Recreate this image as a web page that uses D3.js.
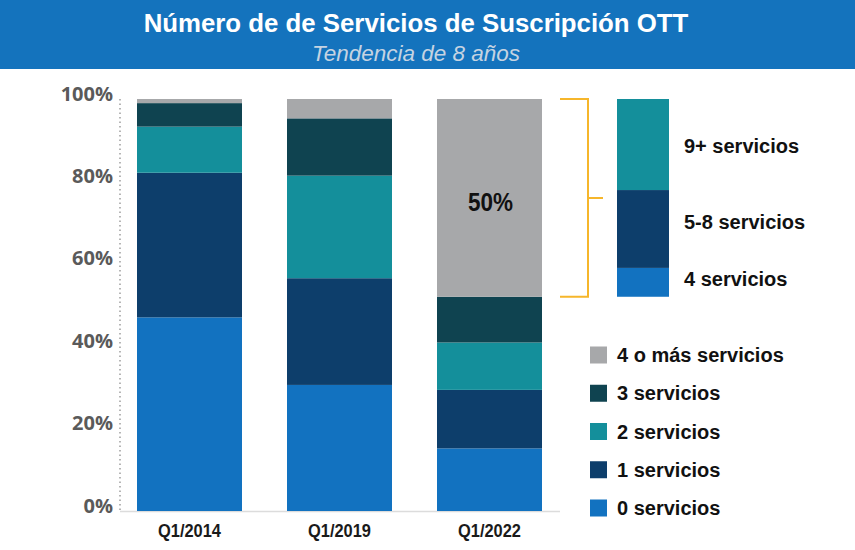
<!DOCTYPE html>
<html><head><meta charset="utf-8">
<script src="https://cdn.jsdelivr.net/npm/d3@7/dist/d3.min.js"></script>
<style>
html,body{margin:0;padding:0;background:#fff;}
svg{display:block;}
</style></head>
<body>
<svg id="c" width="855" height="550"></svg>
<script>
const categories = ["Q1/2014", "Q1/2019", "Q1/2022"];
const seriesNames = ["0 servicios", "1 servicios", "2 servicios", "3 servicios", "4 o más servicios"];
const s0 = [47.0, 30.6, 15.2];
const s1 = [35.1, 25.9, 14.2];
const s2 = [11.2, 24.9, 11.5];
const s3 = [5.7, 13.9, 11.1];
const s4 = [1.0, 4.7, 48.0];
const seriesColors = ["#1272c0", "#0d3e6b", "#148f9b", "#0f4350", "#a7a8aa"];
const yTicks = [0, 20, 40, 60, 80, 100];
const highlightLabel = "50%";
const breakdownNames = ["4 servicios", "5-8 servicios", "9+ servicios"];
const breakdownValues = [7.0, 18.9, 22.1];
const breakdownColors = ["#1272c0", "#0d3e6b", "#148f9b"];
const titleText = "Número de de Servicios de Suscripción OTT";
const subtitleText = "Tendencia de 8 años";

const svg = d3.select("#c");
const allSeries = [s0, s1, s2, s3, s4];
const table = categories.map((c, i) => {
  const o = {cat: c};
  seriesNames.forEach((n, j) => o[n] = allSeries[j][i]);
  return o;
});
const stack = d3.stack().keys(seriesNames)(table);

const x = d3.scaleBand().domain(categories).range([122, 557]).paddingInner(0.3).paddingOuter(0.1);
const y = d3.scaleLinear().domain([0, 100]).range([511, 99]);

// header
svg.append("rect").attr("x", 0).attr("y", 0).attr("width", 855).attr("height", 69).attr("fill", "#1473bd");
svg.append("text").attr("x", 416).attr("y", 32).attr("text-anchor", "middle")
  .attr("font-family", "Liberation Sans, Arial, sans-serif").attr("font-weight", "bold")
  .attr("font-size", 25.8).attr("fill", "#fff").text(titleText);
svg.append("text").attr("x", 416).attr("y", 61).attr("text-anchor", "middle")
  .attr("font-family", "Liberation Sans, Arial, sans-serif").attr("font-style", "italic")
  .attr("font-size", 22.5).attr("fill", "#c5d3e2").text(subtitleText);

// axes
svg.append("line").attr("x1", 120).attr("x2", 120).attr("y1", y(100)).attr("y2", y(0))
  .attr("stroke", "#b5b5b5").attr("stroke-width", 2).attr("stroke-dasharray", "1.5,3");
svg.append("line").attr("x1", 120).attr("x2", 560).attr("y1", y(0) + 0.5).attr("y2", y(0) + 0.5)
  .attr("stroke", "#dcdcdc").attr("stroke-width", 1.5);

const yAxis = d3.axisLeft(y).tickValues(yTicks).tickFormat(d => d + "%").tickSize(0).tickPadding(7);
const ya = svg.append("g").attr("transform", "translate(120,0)").call(yAxis);
ya.select(".domain").remove();
ya.selectAll("text").attr("font-family", "Open Sans, sans-serif").attr("font-weight", 700)
  .attr("font-size", 20).attr("fill", "#5a5a5a").attr("dy", "0.05em");

const xAxis = d3.axisBottom(x).tickSize(0).tickPadding(13);
const xa = svg.append("g").attr("transform", `translate(0,${y(0)})`).call(xAxis);
xa.select(".domain").remove();
xa.selectAll("text").attr("font-family", "Liberation Sans, Arial, sans-serif")
  .attr("font-weight", "bold").attr("font-size", 19).attr("fill", "#1a1a1a")
  .attr("textLength", 63).attr("lengthAdjust", "spacingAndGlyphs");

// bars
svg.append("g").selectAll("g").data(stack).join("g")
  .attr("fill", (d, i) => seriesColors[i])
  .selectAll("rect").data(d => d).join("rect")
  .attr("x", d => x(d.data.cat)).attr("width", x.bandwidth())
  .attr("y", d => y(Math.min(100, d[1]))).attr("height", d => y(d[0]) - y(Math.min(100, d[1])));

// highlight label on last bar's top segment
svg.append("text").attr("x", x(categories[2]) + x.bandwidth() / 2 + 1).attr("y", y(75) + 9)
  .attr("text-anchor", "middle").attr("font-family", "Liberation Sans, Arial, sans-serif")
  .attr("font-weight", "bold").attr("font-size", 25).attr("fill", "#111")
  .attr("textLength", 45).attr("lengthAdjust", "spacingAndGlyphs").text(highlightLabel);

// bracket
const base = 100 - d3.sum(breakdownValues);
const bTop = y(100), bBot = y(base), bMid = (bTop + bBot) / 2;
svg.append("path")
  .attr("d", `M560,${bTop}H588V${bBot}H560M588,${bMid}H603`)
  .attr("fill", "none").attr("stroke", "#f6b62b").attr("stroke-width", 2);

// breakdown bar
let acc = base;
const labelNudge = [-3, -7, 1];
const bd = breakdownValues.map((v, i) => { const o = {v, y0: acc, y1: acc + v, name: breakdownNames[i], color: breakdownColors[i], nudge: labelNudge[i]}; acc += v; return o; });
svg.append("g").selectAll("rect").data(bd).join("rect")
  .attr("x", 617).attr("width", 52)
  .attr("y", d => y(d.y1)).attr("height", d => y(d.y0) - y(d.y1))
  .attr("fill", d => d.color);
svg.append("g").selectAll("text").data(bd).join("text")
  .attr("x", 684).attr("y", d => (y(d.y0) + y(d.y1)) / 2 + d.nudge)
  .attr("dominant-baseline", "central")
  .attr("font-family", "Liberation Sans, Arial, sans-serif").attr("font-weight", "bold")
  .attr("font-size", 20).attr("fill", "#111").text(d => d.name);

// legend
const legendItems = seriesNames.map((n, i) => ({n, c: seriesColors[i]})).reverse();
const lg = svg.append("g").selectAll("g").data(legendItems).join("g")
  .attr("transform", (d, i) => `translate(590,${355 + i * 38.25})`);
lg.append("rect").attr("x", 0).attr("y", -8.5).attr("width", 17).attr("height", 17).attr("fill", d => d.c);
lg.append("text").attr("x", 27).attr("y", 0).attr("dominant-baseline", "central")
  .attr("font-family", "Liberation Sans, Arial, sans-serif").attr("font-weight", "bold")
  .attr("font-size", 20).attr("fill", "#111").text(d => d.n);
</script>
</body></html>
